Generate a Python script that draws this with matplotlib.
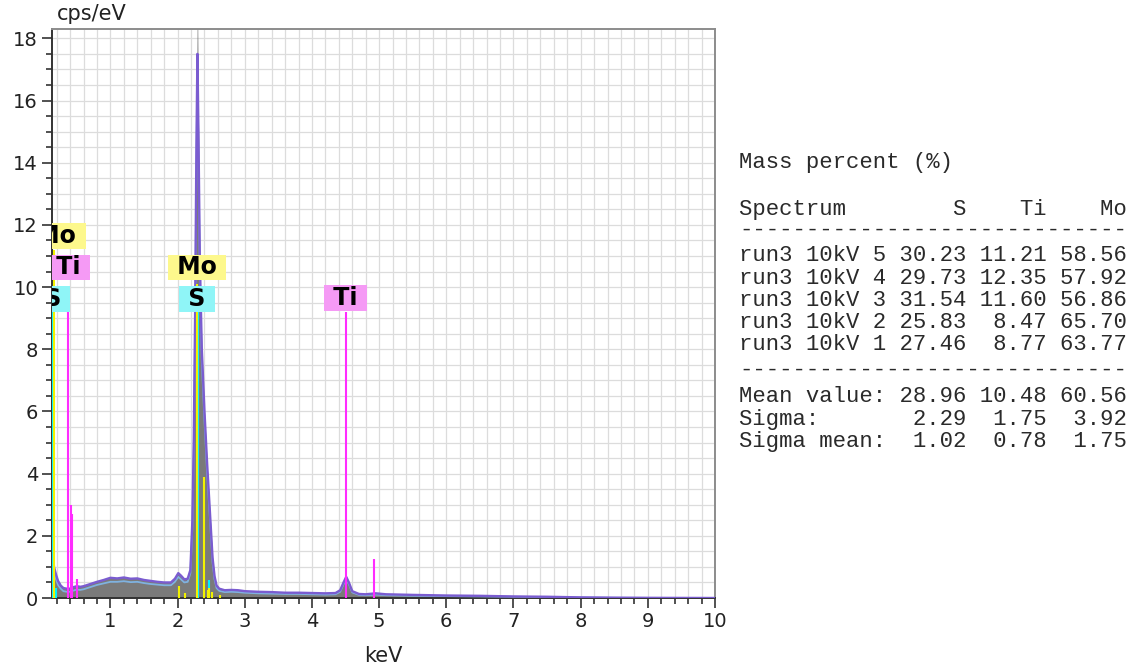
import numpy as np
import matplotlib.pyplot as plt
from matplotlib.ticker import MultipleLocator

# spectrum (keV, cps/eV)
energia = [0.13, 0.16, 0.19, 0.22, 0.26, 0.30, 0.35, 0.40, 0.45, 0.50,
           0.55, 0.60, 0.70, 0.80, 0.90, 1.00, 1.10, 1.20, 1.30, 1.40,
           1.50, 1.60, 1.70, 1.80, 1.90, 1.96, 2.01, 2.05, 2.10, 2.15,
           2.19, 2.22, 2.24, 2.26, 2.28, 2.295, 2.31, 2.33, 2.36, 2.40,
           2.44, 2.48, 2.52, 2.55, 2.58, 2.62, 2.70, 2.80, 2.90, 3.00,
           3.20, 3.40, 3.60, 3.80, 4.00, 4.20, 4.35, 4.42, 4.47, 4.51,
           4.55, 4.60, 4.70, 4.80, 4.95, 5.10, 5.50, 6.00, 6.50, 7.00,
           7.50, 8.00, 8.50, 9.00, 10.0]
roxo = [1.60, 1.00, 0.75, 0.55, 0.40, 0.32, 0.30, 0.30, 0.35, 0.38,
        0.36, 0.38, 0.45, 0.52, 0.58, 0.65, 0.63, 0.66, 0.62, 0.63,
        0.58, 0.55, 0.52, 0.50, 0.50, 0.62, 0.80, 0.72, 0.60, 0.62,
        0.90, 2.50, 5.00, 9.00, 14.5, 17.5, 15.0, 11.0, 8.00, 6.00,
        4.30, 2.80, 1.30, 0.70, 0.40, 0.30, 0.25, 0.26, 0.25, 0.22,
        0.20, 0.19, 0.17, 0.17, 0.16, 0.15, 0.16, 0.25, 0.50, 0.68,
        0.50, 0.22, 0.13, 0.12, 0.15, 0.12, 0.10, 0.08, 0.07, 0.05,
        0.04, 0.02, 0.01, 0.005, 0.0]
azul = [1.40, 0.85, 0.60, 0.42, 0.30, 0.22, 0.20, 0.20, 0.24, 0.27,
        0.26, 0.28, 0.35, 0.42, 0.47, 0.52, 0.52, 0.54, 0.51, 0.52,
        0.48, 0.45, 0.43, 0.41, 0.41, 0.52, 0.68, 0.60, 0.50, 0.52,
        0.80, 2.30, 4.70, 8.60, 14.0, 16.8, 14.4, 10.5, 7.60, 5.70,
        4.00, 2.60, 1.15, 0.60, 0.32, 0.23, 0.19, 0.20, 0.19, 0.17,
        0.15, 0.14, 0.13, 0.13, 0.12, 0.11, 0.12, 0.20, 0.44, 0.60,
        0.44, 0.18, 0.10, 0.09, 0.11, 0.09, 0.07, 0.06, 0.05, 0.04,
        0.03, 0.015, 0.008, 0.004, 0.0]
cinza = [1.62, 1.02, 0.77, 0.57, 0.42, 0.34, 0.32, 0.32, 0.37, 0.40,
         0.38, 0.40, 0.47, 0.54, 0.60, 0.67, 0.65, 0.68, 0.64, 0.65,
         0.60, 0.57, 0.54, 0.52, 0.52, 0.64, 0.82, 0.74, 0.62, 0.64,
         0.92, 2.50, 5.00, 9.20, 15.5, 19.5, 15.5, 11.2, 8.10, 6.00,
         4.30, 2.80, 1.30, 0.70, 0.40, 0.30, 0.26, 0.27, 0.26, 0.23,
         0.21, 0.20, 0.18, 0.18, 0.17, 0.16, 0.17, 0.26, 0.52, 0.70,
         0.52, 0.23, 0.14, 0.13, 0.16, 0.13, 0.11, 0.09, 0.07, 0.05,
         0.04, 0.02, 0.01, 0.005, 0.0]

# element marker lines
mo_e = [0.16, 2.016, 2.11, 2.293, 2.395, 2.45, 2.47, 2.51, 2.63]
mo_h = [11.2, 0.38, 0.15, 10.1, 3.9, 0.25, 0.33, 0.2, 0.1]
s_e = [0.145, 0.19, 2.307, 2.464]
s_h = [9.2, 0.32, 9.2, 0.57]
ti_e = [0.372, 0.41, 0.43, 0.50, 4.51, 4.93]
ti_h = [9.2, 3.0, 2.7, 0.6, 9.2, 1.25]

# labels (element, keV, cps/eV)
rotulos = [('Mo', 0.197, 11.65), ('Ti', 0.38, 10.63), ('S', 0.137, 9.63),
           ('Mo', 2.283, 10.63), ('S', 2.29, 9.63), ('Ti', 4.497, 9.66)]
cores_caixa = {'Mo': '#fdf88c', 'Ti': '#f59af5', 'S': '#8ff5f7'}

# quantification table
amostras = ['run3 10kV 5', 'run3 10kV 4', 'run3 10kV 3', 'run3 10kV 2', 'run3 10kV 1']
S = [30.23, 29.73, 31.54, 25.83, 27.46]
Ti = [11.21, 12.35, 11.60, 8.47, 8.77]
Mo = [58.56, 57.92, 56.86, 65.70, 63.77]
media = [28.96, 10.48, 60.56]
sigma = [2.29, 1.75, 3.92]
sigma_media = [1.02, 0.78, 1.75]

fig = plt.figure(figsize=(11.38, 6.62), dpi=100)
ax = fig.add_axes([52/1138, 1-598/662, (715-52)/1138, (598-29)/662])

ax.fill_between(energia, 0, cinza, color='#7a7a7a', lw=0, zorder=2)
ax.plot(energia, azul, color='#7fb2e0', lw=1.3, zorder=3)
ax.plot(energia, roxo, color='#7a5cd0', lw=1.7, zorder=4)

ax.vlines(s_e, 0, s_h, color='#00f0ff', lw=1.5, zorder=5)
ax.vlines(mo_e, 0, mo_h, color='#f2f200', lw=1.5, zorder=5)
ax.vlines(ti_e, 0, ti_h, color='#ff2cff', lw=1.5, zorder=5)

for nome, xe, ye in rotulos:
    ax.text(xe, ye, ' ' + nome + ' ', ha='center', va='center', fontsize=17, weight='bold',
            color='black', zorder=7, clip_on=True,
            bbox=dict(boxstyle='square,pad=0.04', fc=cores_caixa[nome], ec='none'))

ax.set_xlim(0.13, 10)
ax.set_ylim(0, 18.3)
ax.xaxis.set_major_locator(MultipleLocator(1))
ax.xaxis.set_minor_locator(MultipleLocator(0.2))
ax.yaxis.set_major_locator(MultipleLocator(2))
ax.yaxis.set_minor_locator(MultipleLocator(0.5))
ax.grid(True, which='both', color='#dcdcdc', lw=0.9, zorder=0)
ax.set_axisbelow(True)
ax.tick_params(which='major', length=7, width=1.2, color='#333333', labelsize=14,
               labelcolor='#222222', pad=3)
ax.tick_params(which='minor', length=4, width=1.2, color='#333333')
ax.spines['left'].set_color('#333333')
ax.spines['bottom'].set_color('#333333')
ax.spines['top'].set_color('#8c8c8c')
ax.spines['right'].set_color('#8c8c8c')
for sp in ax.spines.values():
    sp.set_linewidth(1.4)

fig.text(57/1138, 1-14/662, 'cps/eV', ha='left', va='center', fontsize=15, color='#222222')
fig.text(383/1138, 1-646/662, 'keV', ha='center', va='top', fontsize=15, color='#222222')

# table as monospaced text
linhas = ['Mass percent (%)', f"{'Spectrum':<12}{'S':>5} {'Ti':>5} {'Mo':>5}", '-'*29]
for a, s, t, m in zip(amostras, S, Ti, Mo):
    linhas.append(f"{a:<12}{s:5.2f} {t:5.2f} {m:5.2f}")
linhas.append('-'*29)
linhas.append(f"{'Mean value:':<12}{media[0]:5.2f} {media[1]:5.2f} {media[2]:5.2f}")
linhas.append(f"{'Sigma:':<12}{sigma[0]:5.2f} {sigma[1]:5.2f} {sigma[2]:5.2f}")
linhas.append(f"{'Sigma mean:':<12}{sigma_media[0]:5.2f} {sigma_media[1]:5.2f} {sigma_media[2]:5.2f}")
base_px = [168, 215, 236, 261, 283.5, 306, 328.5, 350.5, 376, 402, 425, 447]
for txt, yp in zip(linhas, base_px):
    fig.text(739/1138, 1-yp/662, txt, ha='left', va='baseline', fontsize=16,
             family='Liberation Mono', color='#2a2a2a')

fig.savefig('out.png', dpi=100)
